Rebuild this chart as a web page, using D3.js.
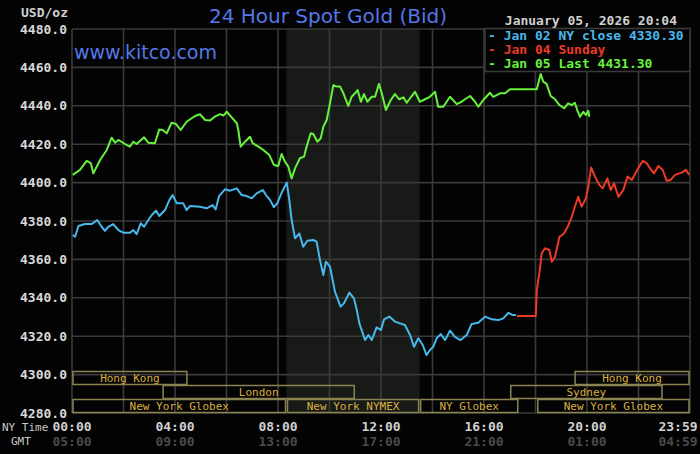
<!DOCTYPE html>
<html>
<head>
<meta charset="utf-8">
<script src="https://cdn.jsdelivr.net/npm/d3@7"></script>
<style>
  body { margin: 0; background: #000; }
  svg { display: block; }
</style>
</head>
<body>
<div id="chart"></div>
<script>
// 24 hour spot gold chart

// Data (NY time in hours, price in USD/oz)
var jan02 = [[0.03,4372.7],[0.12,4371.8],[0.25,4377.4],[0.5,4378.4],[0.76,4378.4],[0.98,4380.5],[1.15,4377],[1.28,4374.9],[1.41,4377],[1.6,4378.4],[1.8,4375.3],[1.99,4373.9],[2.25,4373.9],[2.38,4375.3],[2.51,4373.2],[2.67,4378.8],[2.8,4377],[2.92,4379.6],[3.1,4383.1],[3.26,4385.4],[3.39,4382.6],[3.61,4385.7],[3.78,4390.9],[3.91,4393.5],[4.07,4389.2],[4.32,4389.2],[4.45,4385.7],[4.58,4387.8],[4.97,4387.4],[5.23,4386.6],[5.46,4388.3],[5.58,4386],[5.71,4393],[5.94,4396.5],[6.14,4395.8],[6.4,4397],[6.59,4393.5],[6.78,4393],[6.98,4391.8],[7.17,4394.4],[7.41,4396.1],[7.56,4393],[7.69,4391],[7.84,4387.2],[7.97,4389.2],[8.14,4394.7],[8.34,4400],[8.44,4390.9],[8.53,4380.5],[8.66,4371],[8.83,4373.5],[8.98,4366.6],[9.14,4369.7],[9.37,4370.1],[9.5,4369.2],[9.63,4359.7],[9.76,4351.9],[9.86,4358.8],[10.02,4356.2],[10.21,4343.2],[10.43,4335.4],[10.56,4337.1],[10.77,4342.7],[10.95,4339.7],[11.06,4333.6],[11.16,4326.7],[11.38,4318],[11.51,4320.6],[11.64,4318],[11.83,4324.6],[12,4323.2],[12.12,4328.8],[12.32,4330.2],[12.54,4327.6],[12.74,4326.7],[12.93,4325.8],[13.13,4320.6],[13.28,4314.5],[13.45,4318.9],[13.62,4315.4],[13.77,4310.2],[13.9,4312.8],[14.03,4314.5],[14.16,4318.9],[14.32,4321.1],[14.49,4318],[14.68,4322.9],[14.87,4319.7],[15.09,4318],[15.33,4320.6],[15.52,4326.4],[15.78,4327],[16.04,4330.2],[16.3,4328.8],[16.56,4328.4],[16.75,4329.3],[16.95,4332.2],[17.11,4331],[17.24,4331]];

var jan04 = [[17.27,4330.5],[18.01,4330.5],[18.05,4344],[18.15,4352.8],[18.24,4363.2],[18.37,4365.8],[18.54,4364.9],[18.63,4358.8],[18.76,4361.4],[18.93,4371.8],[19.11,4373.5],[19.25,4377],[19.41,4382.2],[19.53,4387.4],[19.66,4392.6],[19.79,4387.4],[19.96,4391.8],[20.05,4397.9],[20.16,4407.9],[20.31,4403.1],[20.48,4398.8],[20.61,4397],[20.79,4402.2],[20.92,4396.1],[21.05,4399.6],[21.22,4392.6],[21.41,4396.1],[21.57,4403.1],[21.74,4401.4],[21.95,4406.6],[22.16,4411.3],[22.32,4410.1],[22.45,4407.4],[22.6,4404.8],[22.77,4408.6],[22.94,4406.6],[23.09,4401],[23.25,4401.4],[23.42,4404],[23.68,4405.2],[23.84,4406.6],[23.97,4404]];

var jan05 = [[0.03,4404],[0.31,4406.6],[0.57,4411.3],[0.73,4410.1],[0.83,4404.8],[1.09,4411.8],[1.35,4417],[1.54,4423.4],[1.67,4420.8],[1.8,4422.2],[2.06,4420.1],[2.25,4418.7],[2.38,4421.3],[2.51,4420.1],[2.8,4423.6],[2.96,4420.8],[3.22,4420.5],[3.39,4427.7],[3.52,4427.4],[3.68,4425.7],[3.87,4431.2],[4.04,4430.5],[4.22,4427.4],[4.45,4431.7],[4.78,4434.7],[4.97,4435.6],[5.17,4432.6],[5.36,4432.3],[5.55,4434.4],[5.75,4435.7],[5.88,4434.9],[6.01,4436.9],[6.2,4434],[6.4,4430.9],[6.46,4427.4],[6.55,4418.7],[6.72,4421.3],[6.91,4423.9],[7.02,4420.5],[7.24,4418.7],[7.43,4417],[7.66,4414.4],[7.84,4409.2],[8.01,4408.6],[8.14,4414.9],[8.27,4410.9],[8.4,4408.3],[8.53,4402.2],[8.66,4407.4],[8.85,4412.7],[9.01,4413.5],[9.11,4418.7],[9.27,4425.7],[9.37,4425.3],[9.53,4421.3],[9.66,4423.1],[9.76,4429.1],[9.89,4432.6],[10.02,4441.3],[10.15,4450.8],[10.28,4450],[10.41,4450],[10.54,4446.5],[10.73,4439.9],[10.86,4444.7],[10.99,4446.5],[11.09,4448.2],[11.22,4442.1],[11.34,4446.1],[11.47,4442.1],[11.64,4444.7],[11.77,4444.7],[11.92,4451.4],[12.03,4446.5],[12.19,4437.8],[12.38,4443],[12.54,4446.1],[12.71,4443.4],[12.87,4444.4],[13,4441.6],[13.17,4444.7],[13.32,4447.3],[13.51,4442.1],[13.71,4443.4],[13.9,4444.7],[14.1,4447.3],[14.22,4439.5],[14.42,4439.5],[14.68,4444.7],[14.94,4440.9],[15.13,4442.1],[15.26,4443.4],[15.46,4445.1],[15.65,4442.1],[15.78,4439.5],[15.97,4443],[16.23,4446.8],[16.36,4444.7],[16.62,4446.5],[16.82,4446.5],[17.01,4448.6],[18.05,4448.6],[18.2,4456.6],[18.3,4452.6],[18.43,4451.4],[18.59,4445.1],[18.76,4443.4],[18.93,4440.4],[19.11,4438.7],[19.27,4441.3],[19.41,4440.4],[19.53,4441.6],[19.62,4437.8],[19.73,4434.3],[19.86,4436.9],[19.96,4435.2],[20.05,4437.4],[20.09,4434.3]];

var legendLabels = ["Jan 02 NY close 4330.30", "Jan 04 Sunday", "Jan 05 Last 4431.30"];
var yTicks = [4280, 4300, 4320, 4340, 4360, 4380, 4400, 4420, 4440, 4460, 4480];
var xTicks = [0, 4, 8, 12, 16, 20, 24];
var nyLabels = ["00:00", "04:00", "08:00", "12:00", "16:00", "20:00", "23:59"];
var gmtLabels = ["05:00", "09:00", "13:00", "17:00", "21:00", "01:00", "04:59"];

// market sessions: [row, start hour, end hour, name]
var sessions = [
  [0, 0, 4.5, "Hong Kong"],
  [0, 19.5, 24, "Hong Kong"],
  [1, 3.5, 11, "London"],
  [1, 17, 22.95, "Sydney"],
  [2, 0, 8.33, "New York Globex"],
  [2, 8.33, 13.5, "New York NYMEX"],
  [2, 13.5, 17.35, "NY Globex"],
  [2, 18.05, 24, "New York Globex"]
];
var nymexHours = [8.33, 13.5];

// SVG dimensions
var svgWidth = 700;
var svgHeight = 454;

var margin = { top: 29, right: 10, bottom: 41, left: 72 };
var width = svgWidth - margin.left - margin.right;
var height = svgHeight - margin.top - margin.bottom;

var mono = "'DejaVu Sans Mono', monospace";
var sans = "'DejaVu Sans', sans-serif";
var gridColor = "#3a3a3a";
var colors = ["#48b8ec", "#ec3a26", "#66f23c"];

var svg = d3.select("#chart")
  .append("svg")
  .attr("width", svgWidth)
  .attr("height", svgHeight);

svg.append("rect")
  .attr("width", svgWidth)
  .attr("height", svgHeight)
  .attr("fill", "#030303");

var chartGroup = svg.append("g")
  .attr("transform", `translate(${margin.left}, ${margin.top})`);

// Scales
var xScale = d3.scaleLinear().domain([0, 24]).range([0, width]);
var yScale = d3.scaleLinear().domain([4280, 4480]).range([height, 0]);

// NYMEX shading
chartGroup.append("rect")
  .attr("x", xScale(nymexHours[0]))
  .attr("y", 0)
  .attr("width", xScale(nymexHours[1]) - xScale(nymexHours[0]))
  .attr("height", height)
  .attr("fill", "#171a17");

// Grid lines
chartGroup.append("g")
  .selectAll("line")
  .data(yTicks)
  .enter()
  .append("line")
  .attr("x1", 0)
  .attr("x2", width)
  .attr("y1", d => yScale(d))
  .attr("y2", d => yScale(d))
  .attr("stroke", gridColor)
  .attr("stroke-width", 1.6);

chartGroup.append("g")
  .selectAll("line")
  .data(d3.range(0, 25, 2))
  .enter()
  .append("line")
  .attr("x1", d => xScale(d))
  .attr("x2", d => xScale(d))
  .attr("y1", 0)
  .attr("y2", height)
  .attr("stroke", gridColor)
  .attr("stroke-width", 1.6);

// Session bars
var rowH = 14;
var rowTop = height - 3 * rowH;
var sessGroup = chartGroup.append("g");
sessGroup.selectAll("rect")
  .data(sessions)
  .enter()
  .append("rect")
  .attr("x", d => xScale(d[1]) + 1)
  .attr("y", d => rowTop + d[0] * rowH + 0.5)
  .attr("width", d => xScale(d[2]) - xScale(d[1]) - 2)
  .attr("height", rowH - 1)
  .attr("fill", "none")
  .attr("stroke", "#8a8550")
  .attr("stroke-width", 1.5);

sessGroup.selectAll("text")
  .data(sessions)
  .enter()
  .append("text")
  .attr("x", d => (xScale(d[1]) + xScale(d[2])) / 2)
  .attr("y", d => rowTop + d[0] * rowH + 11)
  .attr("text-anchor", "middle")
  .attr("font-family", mono)
  .attr("font-size", "11px")
  .attr("fill", "#dcb040")
  .text(d => d[3]);

// Price lines
var line = d3.line()
  .x(d => xScale(d[0]))
  .y(d => yScale(d[1]));

[jan02, jan04, jan05].forEach(function (series, i) {
  chartGroup.append("path")
    .datum(series)
    .attr("d", line)
    .attr("fill", "none")
    .attr("stroke", colors[i])
    .attr("stroke-width", 2)
    .attr("stroke-linejoin", "round");
});

// Legend box
var legendX = 485 - margin.left;
var legend = chartGroup.append("g");
legend.append("rect")
  .attr("x", legendX)
  .attr("y", -0.5)
  .attr("width", width - legendX)
  .attr("height", 43)
  .attr("fill", "#030303")
  .attr("stroke", gridColor)
  .attr("stroke-width", 1.6);

legend.selectAll("text")
  .data(legendLabels)
  .enter()
  .append("text")
  .attr("x", legendX + 3)
  .attr("y", (d, i) => 11 + i * 14)
  .attr("font-family", mono)
  .attr("font-size", "13px")
  .attr("font-weight", "700")
  .attr("fill", (d, i) => colors[i])
  .text(d => "- " + d);

// Y labels
chartGroup.append("g")
  .selectAll("text")
  .data(yTicks)
  .enter()
  .append("text")
  .attr("x", -5)
  .attr("y", d => yScale(d))
  .attr("dy", "0.35em")
  .attr("text-anchor", "end")
  .attr("font-family", mono)
  .attr("font-size", "13px")
  .attr("font-weight", "700")
  .attr("fill", "#d8d8d8")
  .text(d => d3.format(".1f")(d));

// X labels (last one kept inside the picture)
function labelX(d) {
  return Math.min(xScale(d), svgWidth - margin.left - 22);
}

chartGroup.append("g")
  .selectAll("text")
  .data(xTicks)
  .enter()
  .append("text")
  .attr("x", labelX)
  .attr("y", height + 18)
  .attr("text-anchor", "middle")
  .attr("font-family", mono)
  .attr("font-size", "13px")
  .attr("font-weight", "700")
  .attr("fill", "#d0d0d0")
  .text((d, i) => nyLabels[i]);

chartGroup.append("g")
  .selectAll("text")
  .data(xTicks)
  .enter()
  .append("text")
  .attr("x", labelX)
  .attr("y", height + 33)
  .attr("text-anchor", "middle")
  .attr("font-family", mono)
  .attr("font-size", "13px")
  .attr("font-weight", "700")
  .attr("fill", "#4a4a4a")
  .text((d, i) => gmtLabels[i]);

svg.append("text")
  .attr("x", 2)
  .attr("y", 431)
  .attr("font-family", mono)
  .attr("font-size", "11px")
  .attr("fill", "#c8c8c8")
  .text("NY Time");

svg.append("text")
  .attr("x", 11)
  .attr("y", 445)
  .attr("font-family", mono)
  .attr("font-size", "11px")
  .attr("fill", "#c8c8c8")
  .text("GMT");

// Titles
svg.append("text")
  .attr("x", 21)
  .attr("y", 17)
  .attr("font-family", mono)
  .attr("font-size", "13px")
  .attr("font-weight", "700")
  .attr("fill", "#d0d0d0")
  .text("USD/oz");

svg.append("text")
  .attr("x", 328)
  .attr("y", 23)
  .attr("text-anchor", "middle")
  .attr("font-family", sans)
  .attr("font-size", "20px")
  .attr("fill", "#5577e8")
  .text("24 Hour Spot Gold (Bid)");

svg.append("text")
  .attr("x", 74)
  .attr("y", 59)
  .attr("font-family", sans)
  .attr("font-size", "19px")
  .attr("fill", "#5577e8")
  .text("www.kitco.com");

svg.append("text")
  .attr("x", 677)
  .attr("y", 25)
  .attr("text-anchor", "end")
  .attr("font-family", mono)
  .attr("font-size", "13px")
  .attr("font-weight", "700")
  .attr("fill", "#d0d0d0")
  .text("January 05, 2026 20:04");
</script>
</body>
</html>
